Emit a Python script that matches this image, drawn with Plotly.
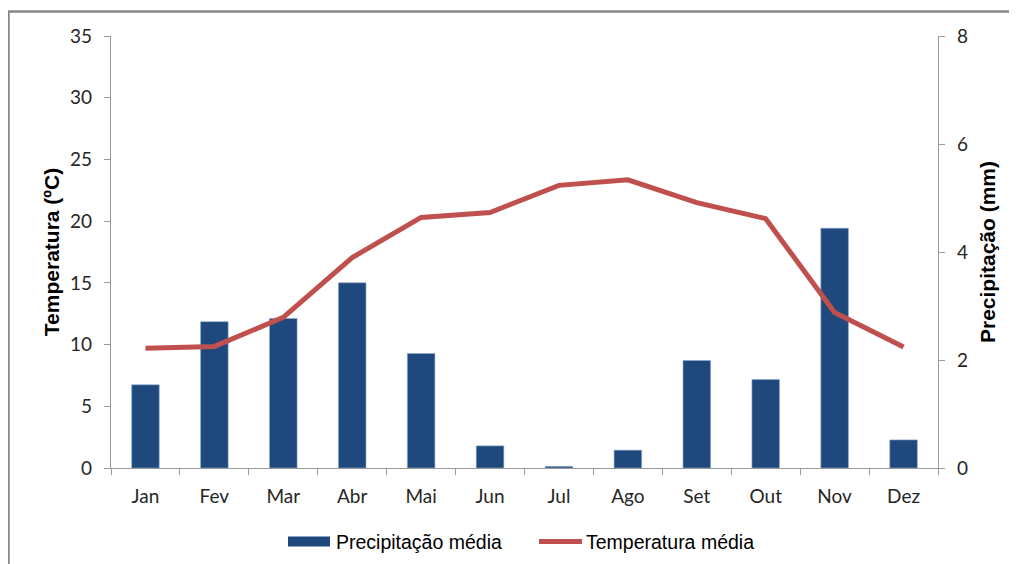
import plotly.graph_objects as go

months = ["Jan", "Fev", "Mar", "Abr", "Mai", "Jun", "Jul", "Ago", "Set", "Out", "Nov", "Dez"]
precip = [1.54, 2.71, 2.77, 3.43, 2.12, 0.41, 0.03, 0.33, 1.99, 1.64, 4.44, 0.52]
temp = [9.7, 9.85, 12.2, 17.05, 20.3, 20.7, 22.9, 23.35, 21.5, 20.2, 12.6, 9.8]

bar_color = "#1F497D"
line_color = "#C0504D"
axis_color = "#9A9A9A"
tick_font = dict(family="Lato, Carlito, sans-serif", size=19, color="#262626")
title_font = dict(family="Liberation Sans, Arial, sans-serif", size=21, color="#000000")
legend_font = dict(family="Liberation Sans, Arial, sans-serif", size=19.5, color="#000000")

fig = go.Figure()
fig.add_trace(go.Bar(
    x=months, y=precip, name="Precipitação média",
    marker=dict(color=bar_color, line=dict(color="#8EA9CC", width=0.6)),
    width=0.4, yaxis="y",
))
fig.add_trace(go.Scatter(
    x=months, y=temp, name="Temperatura média", mode="lines",
    line=dict(color=line_color, width=5), yaxis="y2",
))

# plot area in paper coordinates: x 111..938 px, y 35.5..467.5 px on screen
def px_x(p):
    return (p - 111) / 827

def px_y(p):
    return (467.5 - p) / 432

fig.update_layout(
    width=1009, height=556,
    margin=dict(l=103, r=79, t=28, b=96, autoexpand=False),
    paper_bgcolor="white", plot_bgcolor="white",
    showlegend=False,
    xaxis=dict(
        showline=True, linecolor=axis_color, linewidth=1.3,
        ticks="outside", tickson="boundaries", ticklen=6, tickcolor=axis_color,
        tickfont=tick_font, showgrid=False, ticklabelstandoff=11,
    ),
    yaxis=dict(
        range=[0, 8], side="right", dtick=2,
        showline=True, linecolor=axis_color, linewidth=1.3,
        ticks="outside", ticklen=6, tickcolor=axis_color,
        tickfont=tick_font, showgrid=False, zeroline=False, ticklabelstandoff=8,
        title=dict(text="<b>Precipitação (mm)</b>", font=title_font, standoff=13),
    ),
    yaxis2=dict(
        range=[0, 35], side="left", overlaying="y", dtick=5,
        showline=True, linecolor=axis_color, linewidth=1.3,
        ticks="outside", ticklen=6, tickcolor=axis_color,
        tickfont=tick_font, showgrid=False, zeroline=False, ticklabelstandoff=8,
        title=dict(text="<b>Temperatura (ºC)</b>", font=title_font, standoff=4),
    ),
    shapes=[
        dict(type="rect", xref="paper", yref="paper",
             x0=px_x(8.5), x1=1.3, y0=-0.4, y1=px_y(11),
             line=dict(color="#888888", width=2.5), fillcolor="rgba(0,0,0,0)",
             layer="below"),
        dict(type="rect", xref="paper", yref="paper",
             x0=px_x(288), x1=px_x(330), y0=px_y(546), y1=px_y(536),
             line=dict(width=0), fillcolor=bar_color),
        dict(type="line", xref="paper", yref="paper",
             x0=px_x(539), x1=px_x(582), y0=px_y(541), y1=px_y(541),
             line=dict(color=line_color, width=5)),
    ],
    annotations=[
        dict(text="Precipitação média", xref="paper", yref="paper",
             x=px_x(334), y=px_y(541), xanchor="left", yanchor="middle",
             showarrow=False, font=legend_font),
        dict(text="Temperatura média", xref="paper", yref="paper",
             x=px_x(584), y=px_y(541), xanchor="left", yanchor="middle",
             showarrow=False, font=legend_font),
    ],
)

fig.write_html("out.html")
